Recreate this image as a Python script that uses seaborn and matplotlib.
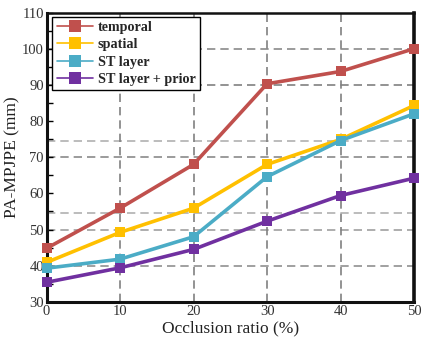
import matplotlib
matplotlib.use("Agg")
import matplotlib.pyplot as plt
import seaborn as sns
import pandas as pd
from matplotlib.ticker import MultipleLocator

# data
ratio = [0, 10, 20, 30, 40, 50]
temporal = [44.8, 55.9, 68.0, 90.3, 93.7, 100.0]
spatial = [40.9, 49.2, 55.9, 68.0, 74.9, 84.3]
st_layer = [39.3, 41.8, 48.0, 64.6, 74.6, 82.0]
st_prior = [35.4, 39.4, 44.5, 52.3, 59.4, 64.2]
names = ["temporal", "spatial", "ST layer", "ST layer + prior"]
colors = ["#C0504D", "#FFC000", "#4BACC6", "#7030A0"]

df = pd.DataFrame({
    "ratio": ratio * 4,
    "value": temporal + spatial + st_layer + st_prior,
    "method": sum([[n] * len(ratio) for n in names], []),
})

sns.set_style("white")
plt.rcParams["font.family"] = ["Liberation Serif", "DejaVu Serif"]

fig = plt.figure(figsize=(4.23, 3.38), dpi=100)
ax = fig.add_axes([0.110, 0.107, 0.869, 0.856])

# odd horizontal grid of the original figure (dark / light dashes)
for y, c in [(100, "#8a8a8a"), (90, "#808080"), (74.5, "#b0b0b0"), (70, "#8a8a8a"),
             (54.5, "#b0b0b0"), (50, "#a0a0a0"), (40, "#909090")]:
    ax.axhline(y, color=c, lw=1.2, ls=(0, (5, 3)), zorder=0.5)
for x in [10, 20, 30, 40]:
    ax.axvline(x, color="#808080", lw=1.2, ls=(0, (5, 3)), zorder=0.5)

for name, col in zip(names, colors):
    sub = df[df["method"] == name]
    sns.lineplot(data=sub, x="ratio", y="value", ax=ax, color=col, lw=2.6,
                 marker="s", markersize=7, markeredgewidth=0, label=name,
                 clip_on=False, zorder=3)

ax.set_xlim(0, 50)
ax.set_ylim(30, 110)
ax.xaxis.set_major_locator(MultipleLocator(10))
ax.yaxis.set_major_locator(MultipleLocator(10))
ax.yaxis.set_minor_locator(MultipleLocator(5))
ax.tick_params(axis="both", which="major", labelsize=10.5, colors="#333333",
               direction="in", length=0, pad=2)
ax.tick_params(axis="y", which="major", length=4, width=1, color="black", left=True)
ax.tick_params(axis="y", which="minor", length=4, width=1, color="black",
               direction="in", left=True)
for lab in ax.get_xticklabels() + ax.get_yticklabels():
    lab.set_color("#333333")

ax.set_xlabel("Occlusion ratio (%)", fontsize=12.5, color="#222222", labelpad=2)
ax.set_ylabel("PA-MPJPE (mm)", fontsize=12.5, color="#222222", labelpad=1)

for side in ["left", "bottom", "right", "top"]:
    ax.spines[side].set_color("#111111")
ax.spines["left"].set_linewidth(2.2)
ax.spines["bottom"].set_linewidth(2.2)
ax.spines["right"].set_linewidth(2.6)
ax.spines["top"].set_linewidth(1.8)

leg = ax.legend(loc="upper left", bbox_to_anchor=(0.008, 0.995), frameon=True,
                fancybox=False, edgecolor="black", framealpha=1,
                prop={"weight": "bold", "size": 10.2}, handlelength=2.6,
                handletextpad=0.3, labelspacing=0.3, borderpad=0.3,
                borderaxespad=0.2)
leg.get_frame().set_linewidth(1.0)
for h in leg.get_lines():
    h.set_linewidth(1.2)
    h.set_markersize(8)
leg.set_zorder(5)

fig.savefig("out.png", dpi=100)
